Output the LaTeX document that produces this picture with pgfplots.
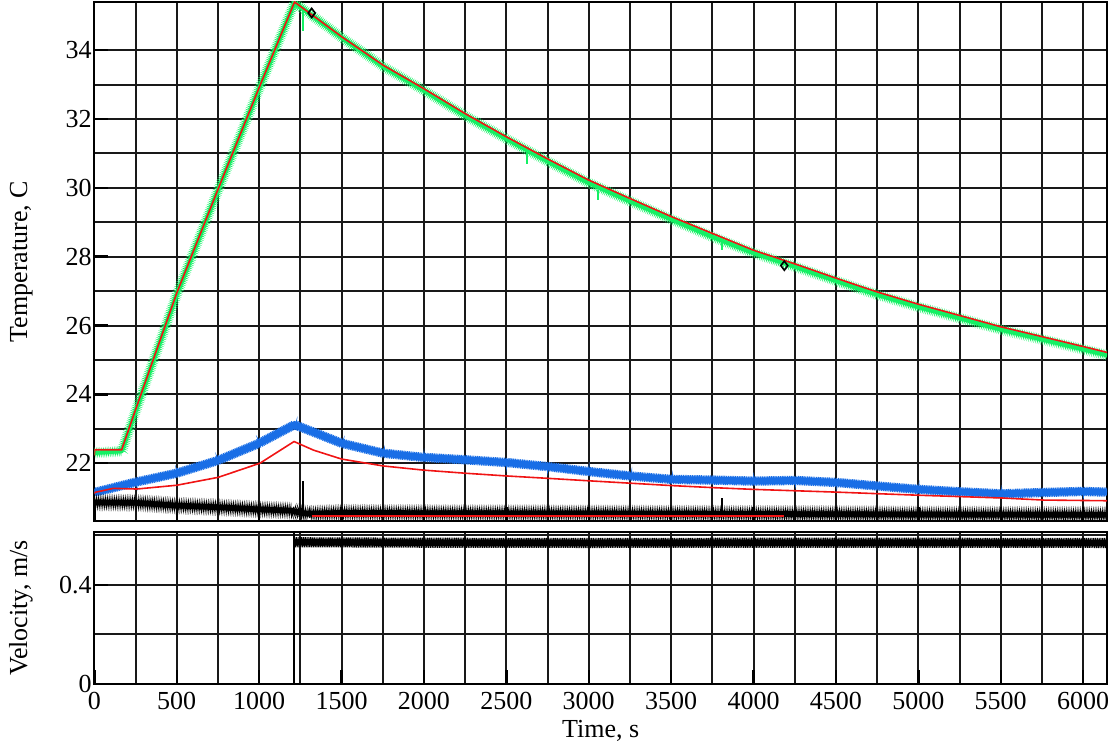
\documentclass[border=0pt]{standalone}
\usepackage{pgfplots}
\pgfplotsset{compat=1.18}
\usetikzlibrary{decorations.pathmorphing}
\usepackage{fontspec}
\setmainfont{Liberation Serif}
\definecolor{meas}{RGB}{20,240,100}
\definecolor{inner}{RGB}{25,110,230}
\definecolor{model}{RGB}{240,20,20}

\begin{document}
\fontsize{13}{15.6}\selectfont
\begin{tikzpicture}
\pgfplotsset{
  every axis/.append style={
    scale only axis, width=506.3pt,
    xmin=0, xmax=6145,
    xtick={0,500,...,6000}, minor x tick num=1,
    grid=both,
    major grid style={black!90, line width=1pt},
    minor grid style={black!90, line width=1pt},
    axis line style={black, line width=1.1pt},
    tick style={black, line width=1.2pt},
    major tick length=7pt, minor tick length=0pt,
    tick align=inside,
    xtick pos=bottom, ytick pos=left,
    tick label style={font=\rmfamily\fontsize{13}{15.6}\selectfont},
    yticklabel style={inner sep=1.2pt},
    xticklabel style={inner sep=1pt, yshift=-3pt},
    label style={font=\rmfamily\fontsize{13}{15.6}\selectfont},
    /pgf/number format/assume math mode=true,
    /pgf/number format/set thousands separator={},
    ylabel style={at={(axis description cs:-0.0605,0.5)}, anchor=south, inner sep=0pt},
    xlabel style={at={(axis description cs:0.5,0)}, anchor=base, inner sep=0pt, yshift=-26.5pt},
  },
  % fuzzy edge for the sampled (noisy) signals
  noisy/.style={decorate, decoration={zigzag, segment length=0.9pt, amplitude=#1}},
}
% ---- temperatures ----
\begin{axis}[
  name=top, height=259.5pt,
  ymin=20.32, ymax=35.4,
  ytick={22,24,...,34}, minor y tick num=1,
  xticklabels={},
  ylabel={Temperature, C},
]
\pgfplotstableread{
t T
0 22.3
166 22.35
250 23.5
500 26.9
750 29.92
1000 32.88
1215 35.38
1501 34.37
1754 33.52
1997 32.84
2249 32.1
2502 31.42
2755 30.76
2998 30.15
3251 29.61
3504 29.08
3754 28.57
3999 28.11
4252 27.71
4505 27.29
4748 26.9
5000 26.54
5253 26.21
5496 25.89
5749 25.6
6001 25.31
6145 25.14
}\outlet
\pgfplotstableread{
t T
0 21.15
100 21.27
250 21.45
500 21.71
750 22.08
1000 22.58
1215 23.12
1501 22.58
1754 22.29
1997 22.17
2249 22.10
2502 22.02
2755 21.90
2998 21.76
3251 21.63
3504 21.53
3757 21.51
4000 21.48
4252 21.50
4505 21.44
4748 21.34
5000 21.24
5253 21.17
5506 21.11
5759 21.15
6000 21.18
6145 21.16
}\wall
\pgfplotstableread{
t T
0 20.86
250 20.85
500 20.77
750 20.72
1000 20.66
1200 20.62
1250 20.56
1300 20.53
1500 20.56
2000 20.55
3000 20.54
4500 20.52
5000 20.51
6145 20.50
}\ambient
% measured outlet temperature
\addplot[meas, line width=2pt] table[x=t, y=T] {\outlet};
\addplot[meas, line width=0.5pt, noisy=1.3pt] table[x=t, y=T] {\outlet};
% dropouts in the measured signal
\addplot[meas, line width=0.9pt] coordinates {(1268,35.2)(1268,34.55)};
\addplot[meas, line width=0.9pt] coordinates {(2624,31.0)(2624,30.7)};
\addplot[meas, line width=0.9pt] coordinates {(3058,29.95)(3058,29.65)};
\addplot[meas, line width=0.9pt] coordinates {(3807,28.4)(3807,28.2)};
\addplot[model, line width=0.8pt] coordinates {
(0,22.22)(2,22.39)(166,22.39)(250,23.55)(500,26.94)(750,29.95)(1000,32.91)
(1215,35.40)(1501,34.39)(1754,33.56)(1997,32.89)(2249,32.16)(2502,31.48)
(2755,30.83)(2998,30.23)(3251,29.69)(3504,29.16)(3754,28.67)(3999,28.19)
(4252,27.79)(4505,27.37)(4748,26.98)(5000,26.62)(5253,26.29)(5496,25.97)
(5749,25.68)(6001,25.39)(6145,25.22)};
% measured wall temperature
\addplot[inner, line width=3.4pt] table[x=t, y=T] {\wall};
\addplot[inner, line width=0.5pt, noisy=2.3pt] table[x=t, y=T] {\wall};
\addplot[model, line width=0.8pt] coordinates {
(0,21.1)(1,21.15)(116,21.27)(257,21.25)(500,21.36)(752,21.59)(1005,22.0)
(1212,22.63)(1330,22.38)(1501,22.12)(1754,21.92)(1997,21.80)(2249,21.71)
(2502,21.63)(2755,21.56)(2998,21.49)(3251,21.42)(3504,21.35)(3757,21.29)
(4000,21.24)(4505,21.16)(5000,21.07)(5506,20.99)(5759,20.93)(6145,20.91)};
% ambient
\addplot[black, line width=2.8pt] table[x=t, y=T] {\ambient};
\addplot[black, line width=0.5pt, noisy=2.1pt] table[x=t, y=T] {\ambient};
\addplot[black, line width=0.8pt] coordinates {(1268,20.56)(1268,21.47)};
\addplot[black, line width=0.8pt] coordinates {(3807,20.53)(3807,21.0)};
\addplot[model, line width=0.8pt] coordinates {(1319,20.47)(4187,20.47)};
% fitted points
\addplot[black, only marks, mark=diamond, mark size=2.3pt, mark options={line width=0.8pt, fill=none}]
  coordinates {(1319,35.08)(4187,27.74)};
\end{axis}
% ---- velocity ----
\begin{axis}[
  name=bot,
  at={(top.south west)}, yshift=-5.5pt, anchor=north west,
  height=76pt,
  ymin=0, ymax=0.612,
  ytick={0,0.4}, minor ytick={0.2,0.6},
  ylabel={Velocity, m/s}, xlabel={Time, s},
]
\addplot[black, line width=0.8pt] coordinates {(0,0)(1210,0)(1210,0.608)};
\addplot[black, line width=3.2pt] coordinates {
(1212,0.571)(2000,0.569)(3000,0.568)(4000,0.569)(5000,0.569)(6145,0.568)};
\addplot[black, line width=0.5pt, noisy=2.5pt] coordinates {
(1212,0.571)(2000,0.569)(3000,0.568)(4000,0.569)(5000,0.569)(6145,0.568)};
\end{axis}
\pgfresetboundingbox
\path ([xshift=-47.15pt,yshift=1pt]top.north west) rectangle ([xshift=3pt,yshift=-31pt]bot.south east);
\end{tikzpicture}
\end{document}
